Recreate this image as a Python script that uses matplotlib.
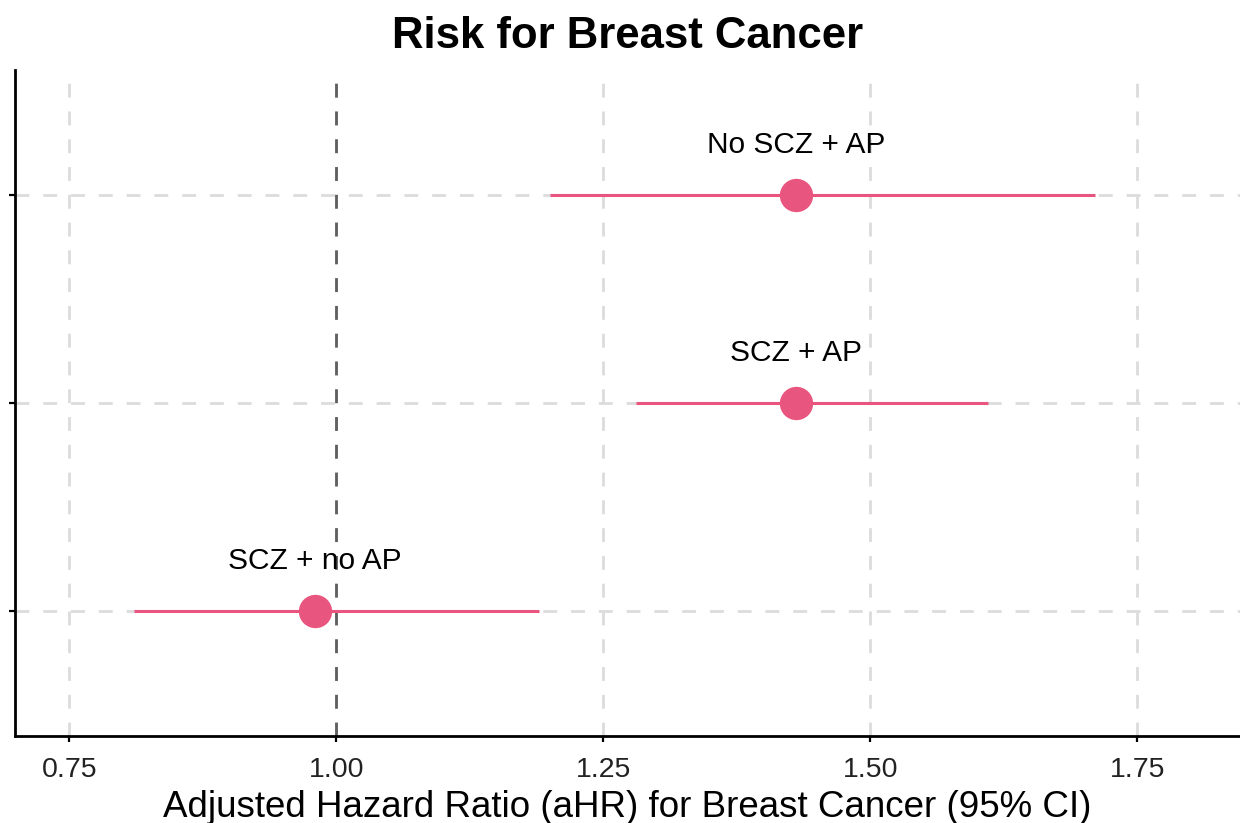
import matplotlib

matplotlib.use("Agg")
import matplotlib.pyplot as plt  # noqa: E402

plt.rcParams["font.family"] = ["Liberation Sans", "DejaVu Sans"]

groups = ["SCZ + no AP", "SCZ + AP", "No SCZ + AP"]
ahr = [0.98, 1.43, 1.43]
ci_low = [0.81, 1.28, 1.20]
ci_high = [1.19, 1.61, 1.71]
xticks = [0.75, 1.00, 1.25, 1.50, 1.75]

PINK = "#E8557F"

fig = plt.figure(figsize=(12.4, 8.23), dpi=100)
ax = fig.add_axes([0.0121, 0.1057, 0.9879, 0.8093])

ypos = list(range(1, len(groups) + 1))

ax.set_xlim(0.699, 1.846)
ax.set_ylim(0.4, 3.6)

# grid
for x in xticks:
    ax.axvline(x, color="#DCDCDC", lw=2, ls=(0, (5, 5)), zorder=0)
for y in ypos:
    ax.axhline(y, color="#DCDCDC", lw=2, ls=(0, (5, 5)), zorder=0)
ax.axvline(1.0, color="#5F5F5F", lw=2, ls=(0, (5, 5)), zorder=1)

ax.hlines(ypos, ci_low, ci_high, color=PINK, lw=2.2, zorder=2)
ax.plot(ahr, ypos, "o", color=PINK, ms=24, mew=0, zorder=3)

for x, y, name in zip(ahr, ypos, groups):
    ax.text(x, y + 0.24, name, ha="center", va="center", fontsize=21.5)

ax.set_xticks(xticks)
ax.set_xticklabels([f"{t:.2f}" for t in xticks], fontsize=20.5)
ax.set_yticks(ypos)
ax.set_yticklabels([])
ax.tick_params(axis="both", length=4, width=1.6, color="black", labelcolor="#222222")
ax.tick_params(axis="x", pad=11)

for side in ("top", "right"):
    ax.spines[side].set_visible(False)
for side in ("left", "bottom"):
    ax.spines[side].set_linewidth(2)

ax.set_xlabel("Adjusted Hazard Ratio (aHR) for Breast Cancer (95% CI)", fontsize=26.5, labelpad=5)
ax.set_title("Risk for Breast Cancer", fontsize=31.5, fontweight="bold", pad=16)

fig.savefig("out.png", dpi=100)
